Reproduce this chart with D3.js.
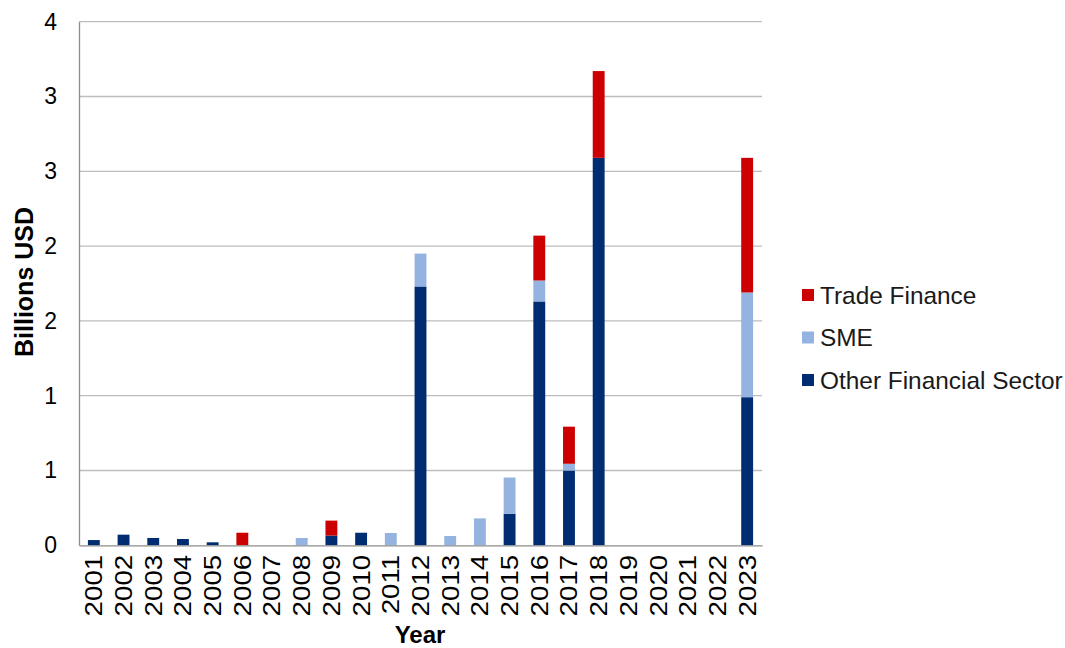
<!DOCTYPE html>
<html><head><meta charset="utf-8">
<script src="https://cdn.jsdelivr.net/npm/d3@7"></script>
<style>body{margin:0;background:#fff;} text{font-family:"Liberation Sans",Arial,sans-serif;}</style>
</head><body><svg id="c" width="1065" height="648"></svg>
<script>
const years = ["2001","2002","2003","2004","2005","2006","2007","2008","2009","2010","2011","2012","2013","2014","2015","2016","2017","2018","2019","2020","2021","2022","2023"];
const otherFinancial = [0.035,0.071,0.049,0.042,0.02,0,0,0,0.065,0.084,0,1.73,0,0,0.21,1.63,0.50,2.59,0,0,0,0,0.99];
const sme = [0,0,0,0,0,0,0,0.049,0,0,0.082,0.22,0.062,0.18,0.243,0.14,0.045,0,0,0,0,0,0.70];
const tradeFinance = [0,0,0,0,0,0.084,0,0,0.10,0,0,0,0,0,0,0.30,0.248,0.58,0,0,0,0,0.90];
const yTickValues = [0,0.5,1,1.5,2,2.5,3,3.5];
const yTickLabels = ["0","1","1","2","2","3","3","4"];
const seriesNames = ["Other Financial Sector","SME","Trade Finance"];
const seriesColors = ["#002D72","#95B3E0","#CC0000"];

const svg = d3.select("#c");
const m = {left:79, right:1065-762, top:21.7, bottom:648-545.3};
const W = 1065 - m.left - m.right, H = 648 - m.top - m.bottom;
const g = svg.append("g").attr("transform",`translate(${m.left},${m.top})`);

const x = d3.scaleBand().domain(years).range([0,W]).paddingInner(0.6).paddingOuter(0.3);
const y = d3.scaleLinear().domain([0,3.5]).range([H,0]);

// gridlines
g.append("g").selectAll("line").data(yTickValues.slice(1)).join("line")
  .attr("x1",0).attr("x2",W).attr("y1",d=>y(d)).attr("y2",d=>y(d))
  .attr("stroke","#BDBDBD").attr("stroke-width",1.3);

const rows = years.map((yr,i)=>({year:yr,"Other Financial Sector":otherFinancial[i],"SME":sme[i],"Trade Finance":tradeFinance[i]}));
const stack = d3.stack().keys(seriesNames)(rows);
const color = d3.scaleOrdinal().domain(seriesNames).range(seriesColors);

g.append("g").selectAll("g").data(stack).join("g").attr("fill",d=>color(d.key))
  .selectAll("rect").data(d=>d.filter(p=>p[1]-p[0]>0)).join("rect")
  .attr("x",d=>x(d.data.year)).attr("width",x.bandwidth())
  .attr("y",d=>y(d[1])).attr("height",d=>y(d[0])-y(d[1]));

// axes
const yAxis = g.append("g").call(d3.axisLeft(y).tickValues(yTickValues).tickFormat((d,i)=>yTickLabels[i]).tickSize(0).tickPadding(22));
yAxis.select(".domain").attr("stroke","#8C8C8C").attr("stroke-width",1.3);
yAxis.selectAll("text").attr("font-size",23).attr("fill","#000");

const xAxis = g.append("g").attr("transform",`translate(0,${H})`).call(d3.axisBottom(x).tickSize(0));
xAxis.select(".domain").attr("stroke","#8C8C8C").attr("stroke-width",1.3);
xAxis.selectAll("text").attr("font-size",23.5).attr("fill","#000")
  .attr("transform","rotate(-90) scale(1.18,1)").attr("text-anchor","end").attr("dx","-8").attr("dy","0.36em").attr("x",0).attr("y",0);

svg.append("text").attr("transform","translate(33,282) rotate(-90)").attr("text-anchor","middle")
  .attr("font-size",25).attr("font-weight","bold").text("Billions USD");
svg.append("text").attr("x",420).attr("y",643).attr("text-anchor","middle")
  .attr("font-size",24).attr("font-weight","bold").text("Year");

// legend
const legendItems = ["Trade Finance","SME","Other Financial Sector"];
const lg = svg.append("g").attr("transform","translate(802,295)");
legendItems.forEach((n,i)=>{
  const r = lg.append("g").attr("transform",`translate(0,${i*42.5})`);
  r.append("rect").attr("x",0).attr("y",-6).attr("width",12).attr("height",12).attr("fill",color(n));
  r.append("text").attr("x",18).attr("y",0).attr("dy","0.36em").attr("font-size",24.4).attr("fill","#1a1a1a").text(n);
});
</script></body></html>
